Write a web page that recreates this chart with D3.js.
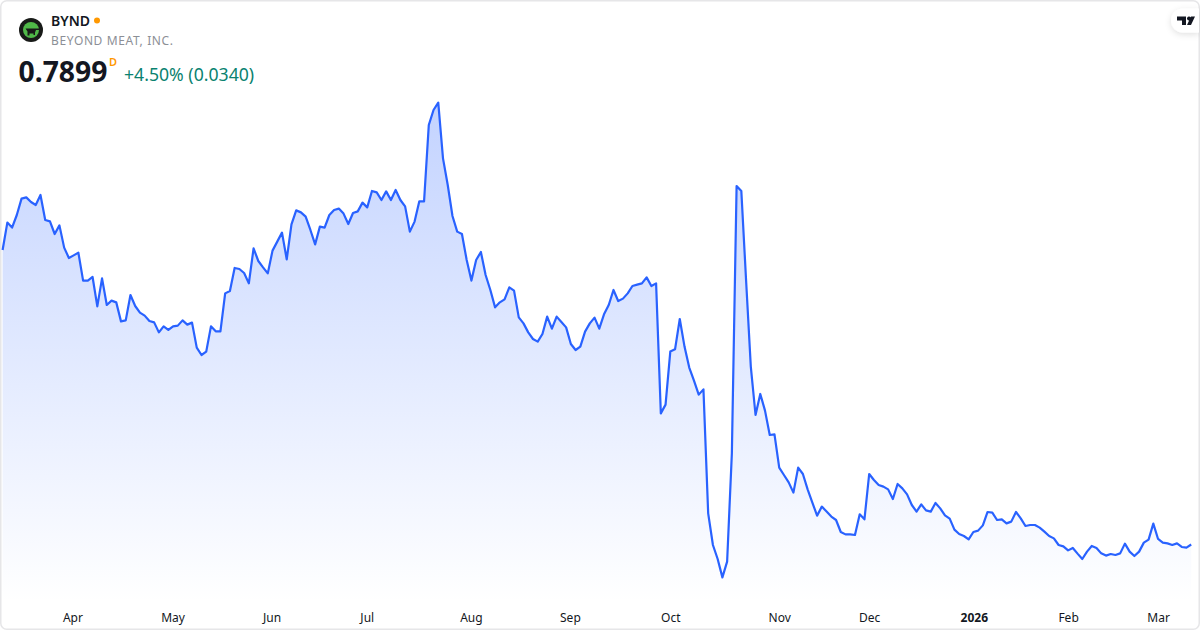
<!DOCTYPE html>
<html><head><meta charset="utf-8">
<script src="https://cdn.jsdelivr.net/npm/d3@7"></script>
<style>html,body{margin:0;padding:0;background:#fff}svg{display:block}text{font-family:"Noto Sans",sans-serif}</style>
</head><body>
<svg id="c" width="1200" height="630"></svg>
<script>
const symbol="BYND", company="BEYOND MEAT, INC.", lastPrice="0.7899", interval="D", change="+4.50% (0.0340)";
const closes=[3.146,3.365,3.325,3.426,3.557,3.567,3.530,3.506,3.586,3.386,3.375,3.274,3.343,3.165,3.082,3.103,3.125,2.901,2.901,2.930,2.695,2.919,2.706,2.741,2.727,2.575,2.583,2.786,2.698,2.645,2.621,2.578,2.567,2.487,2.535,2.506,2.535,2.541,2.583,2.549,2.565,2.365,2.306,2.333,2.535,2.495,2.495,2.799,2.818,3.002,2.994,2.962,2.879,3.159,3.058,3.007,2.959,3.141,3.213,3.285,3.071,3.351,3.463,
3.447,3.413,3.306,3.191,3.333,3.325,3.426,3.466,3.477,3.437,3.354,3.442,3.455,3.525,3.487,3.618,3.607,3.546,3.615,3.546,3.626,3.546,3.495,3.293,3.373,3.535,3.535,4.146,4.266,4.325,3.879,3.666,3.418,3.293,3.274,3.066,2.901,3.066,3.130,2.946,2.826,2.687,2.727,2.751,2.847,2.821,2.607,2.559,2.487,2.434,2.413,2.474,2.613,2.517,2.613,2.570,2.527,2.394,2.346,2.373,2.493,2.559,2.605,2.517,
2.631,2.706,2.826,2.738,2.757,2.799,2.858,2.869,2.879,2.927,2.858,2.879,1.839,1.909,2.333,2.351,2.594,2.373,2.205,2.101,1.989,2.031,1.039,0.786,0.674,0.527,0.653,1.519,3.658,3.618,2.906,2.213,1.826,1.994,1.861,1.666,1.671,1.405,1.346,1.287,1.205,1.405,1.354,1.231,1.125,1.021,1.093,1.053,1.013,0.986,0.890,0.871,0.871,0.866,1.031,0.991,1.354,1.306,1.266,1.253,
1.231,1.154,1.274,1.239,1.191,1.106,1.053,1.111,1.063,1.053,1.122,1.079,1.023,0.997,0.909,0.874,0.858,0.831,0.890,0.901,0.943,1.050,1.045,0.986,0.991,0.959,0.973,1.050,0.999,0.938,0.946,0.946,0.925,0.893,0.858,0.839,0.786,0.775,0.743,0.762,0.717,0.674,0.733,0.778,0.762,0.719,0.701,0.714,0.706,0.719,0.797,0.733,0.698,0.733,0.805,0.829,0.957,0.834,0.805,0.799,0.786,0.799,0.770,0.765,0.7899];
const monthLabels=["Apr","May","Jun","Jul","Aug","Sep","Oct","Nov","Dec","2026","Feb","Mar"];
const monthIndex=[14.75,35.9,56.8,76.9,98.9,119.8,141,164,183,205.1,225,244];

const svg=d3.select("#c");
const x=d3.scaleLinear().domain([0,closes.length-1]).range([2.6,1191.2]);
const y=d3.scaleLinear().domain([0,4]).range([643.24,143.24]);

const defs=svg.append("defs");
const g=defs.append("linearGradient").attr("id","fill").attr("gradientUnits","userSpaceOnUse")
 .attr("x1",0).attr("x2",0).attr("y1",y(d3.max(closes))).attr("y2",602);
g.append("stop").attr("offset",0).attr("stop-color","#2962FF").attr("stop-opacity",0.28);
g.append("stop").attr("offset",1).attr("stop-color","#2962FF").attr("stop-opacity",0);

svg.append("rect").attr("x",0.75).attr("y",0.75).attr("width",1198.5).attr("height",628.5).attr("rx",6)
 .attr("fill","#fff").attr("stroke","#e6e6e8").attr("stroke-width",1.5);

const area=d3.area().x((d,i)=>x(i)).y0(602).y1(d=>y(d));
const line=d3.line().x((d,i)=>x(i)).y(d=>y(d));
svg.append("path").datum(closes).attr("d",area).attr("fill","url(#fill)");
svg.append("path").datum(closes).attr("d",line).attr("fill","none").attr("stroke","#2962FF").attr("stroke-width",2.2).attr("stroke-linejoin","round");

// axis
const ax=svg.append("g").attr("transform","translate(0,604)")
 .call(d3.axisBottom(x).tickValues(monthIndex).tickFormat((d,i)=>monthLabels[i]).tickSize(0).tickPadding(0));
ax.select(".domain").remove();
ax.selectAll("text").attr("y",0).attr("dy","0").attr("transform","translate(0,18)")
 .attr("font-size",12).attr("fill","#131722").style("font-family",'"Noto Sans",sans-serif')
 .attr("font-weight",(d,i)=>monthLabels[i]==="2026"?700:400);

// header
const logo=svg.append("g").attr("transform","translate(31,30)");
logo.append("circle").attr("r",12).attr("fill","#181a18");
logo.append("circle").attr("r",8).attr("fill","#4fb848");
logo.append("path").attr("d","M-5.5,-1.5H8V0H5L4,2.5V5H2.5V3.5H-1.5V5.5H-3.5V1.5Z").attr("fill","#181a18");
svg.append("text").attr("x",51).attr("y",26).attr("font-size",14).attr("font-weight",600).attr("fill","#131722").text(symbol);
svg.append("circle").attr("cx",97).attr("cy",20.5).attr("r",3).attr("fill","#ff9800");
svg.append("text").attr("x",51).attr("y",45).attr("font-size",12).attr("letter-spacing",0.62).attr("fill","#8c8f96").text(company);
svg.append("text").attr("x",18.5).attr("y",82).attr("font-size",28.3).attr("font-weight",700).attr("fill","#131722").text(lastPrice);
svg.append("text").attr("x",109).attr("y",66).attr("font-size",11).attr("font-weight",600).attr("fill","#ff9800").text(interval);
svg.append("text").attr("x",124).attr("y",81).attr("font-size",17.65).attr("fill","#0a8270").text(change);

// watermark badge
const badge=svg.append("g");
defs.append("filter").attr("id","sh").attr("x","-30%").attr("y","-30%").attr("width","160%").attr("height","170%")
 .append("feDropShadow").attr("dx",0).attr("dy",2).attr("stdDeviation",3).attr("flood-color","#000").attr("flood-opacity",0.12);
badge.append("path").attr("d","M1199,8.5H1183a12,12 0 0 0 0,24H1199Z").attr("fill","#fff").attr("filter","url(#sh)");
badge.append("path").attr("d","M1177,16.5H1186V25H1182V20.5H1177ZM1189,20.5a2,2 0 1 1 0.01,0ZM1191,16.5H1195L1191,25H1187Z").attr("fill","#131722");
</script>
</body></html>
